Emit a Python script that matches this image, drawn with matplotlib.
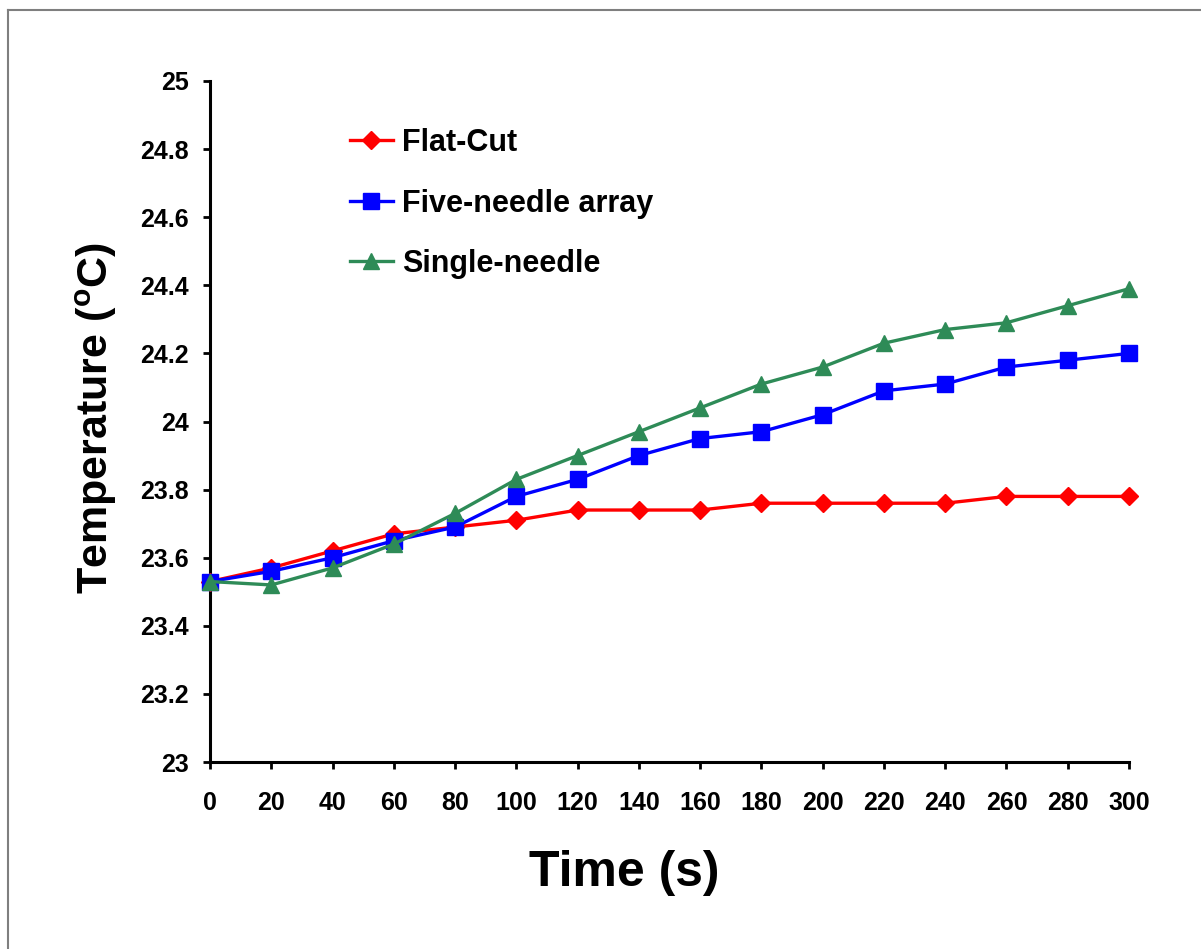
import matplotlib
matplotlib.use("Agg")
import matplotlib.pyplot as plt
from matplotlib.lines import Line2D

plt.rcParams['font.family'] = ['Liberation Sans', 'DejaVu Sans']
plt.rcParams['font.weight'] = 'bold'
plt.rcParams['mathtext.fontset'] = 'custom'
plt.rcParams['mathtext.rm'] = 'Liberation Sans:bold'
plt.rcParams['mathtext.bf'] = 'Liberation Sans:bold'
plt.rcParams['mathtext.it'] = 'Liberation Sans:bold'

time_s = [0, 20, 40, 60, 80, 100, 120, 140, 160, 180, 200, 220, 240, 260, 280, 300]
flat_cut = [23.53, 23.57, 23.62, 23.67, 23.69, 23.71, 23.74, 23.74, 23.74, 23.76,
            23.76, 23.76, 23.76, 23.78, 23.78, 23.78]
five_needle = [23.53, 23.56, 23.60, 23.65, 23.69, 23.78, 23.83, 23.90, 23.95, 23.97,
               24.02, 24.09, 24.11, 24.16, 24.18, 24.20]
single_needle = [23.53, 23.52, 23.57, 23.64, 23.73, 23.83, 23.90, 23.97, 24.04, 24.11,
                 24.16, 24.23, 24.27, 24.29, 24.34, 24.39]
series_names = ['Flat-Cut', 'Five-needle array', 'Single-needle']
y_ticks = [23, 23.2, 23.4, 23.6, 23.8, 24, 24.2, 24.4, 24.6, 24.8, 25]
y_tick_labels = ['23', '23.2', '23.4', '23.6', '23.8', '24', '24.2', '24.4', '24.6', '24.8', '25']
x_ticks = time_s

W, H = 1201, 949
fig = plt.figure(figsize=(W / 100, H / 100), dpi=100)
ax = fig.add_axes([210 / W, 1 - 762 / H, (1129 - 210) / W, (762 - 81) / H])

ax.plot(time_s, flat_cut, color='#FF0000', lw=2.4, marker='D', ms=9,
        label=series_names[0], clip_on=False, zorder=3)
ax.plot(time_s, five_needle, color='#0000FF', lw=2.4, marker='s', ms=11.5,
        label=series_names[1], clip_on=False, zorder=3)
ax.plot(time_s, single_needle, color='#2E8B57', lw=2.4, marker='^', ms=12,
        label=series_names[2], clip_on=False, zorder=3)

ax.set_xlim(0, 300)
ax.set_ylim(23, 25)
ax.set_xticks(x_ticks)
ax.set_xticklabels([str(t) for t in x_ticks])
ax.set_yticks(y_ticks)
ax.set_yticklabels(y_tick_labels)
ax.spines['top'].set_visible(False)
ax.spines['right'].set_visible(False)
for s in ('left', 'bottom'):
    ax.spines[s].set_linewidth(2.2)
ax.tick_params(axis='both', direction='out', length=5, width=2, labelsize=18)
ax.tick_params(axis='x', pad=16)
ax.tick_params(axis='y', pad=10)
for lab in ax.get_xticklabels() + ax.get_yticklabels():
    lab.set_fontweight('bold')

fig.text(96 / W, 1 - 418 / H, r'Temperature ($^{\mathrm{o}}$C)', rotation=90,
         ha='center', va='center', fontsize=31, fontweight='bold')
fig.text(624 / W, 1 - 873 / H, 'Time (s)', ha='center', va='center',
         fontsize=36, fontweight='bold')

leg = ax.legend(loc='upper left', bbox_to_anchor=((350 - 210) / (1129 - 210), 1 - (128 - 81) / (762 - 81)),
                frameon=False, fontsize=22, numpoints=1, handlelength=1.4,
                handletextpad=0.3, labelspacing=1.0, borderaxespad=0, borderpad=0)
for t in leg.get_texts():
    t.set_fontweight('bold')

# outer frame (left and top edges)
fig.add_artist(Line2D([8 / W, 8 / W], [0, 1 - 10 / H], transform=fig.transFigure,
                      color='#7f7f7f', lw=1.5))
fig.add_artist(Line2D([8 / W, 1], [1 - 10 / H, 1 - 10 / H], transform=fig.transFigure,
                      color='#7f7f7f', lw=1.5))

fig.savefig('out.png', dpi=100)
